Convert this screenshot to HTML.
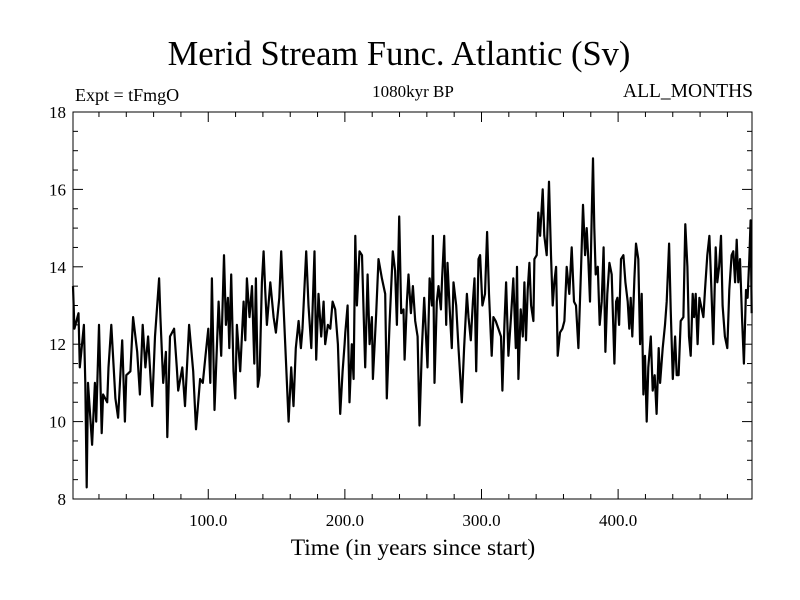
<!DOCTYPE html>
<html><head><meta charset="utf-8"><style>
html,body{margin:0;padding:0;background:#fff;}
svg{display:block;font-family:"Liberation Serif",serif;}
</style></head><body>
<svg id="chart" width="800" height="600" viewBox="0 0 800 600">
<text x="399" y="65" text-anchor="middle" font-size="34.5">Merid Stream Func. Atlantic (Sv)</text>
<text x="75" y="101" font-size="18">Expt = tFmgO</text>
<text x="413" y="97" text-anchor="middle" font-size="17">1080kyr BP</text>
<text x="753" y="97" text-anchor="end" font-size="19.5">ALL_MONTHS</text>
<text x="413" y="555" text-anchor="middle" font-size="23.5">Time (in years since start)</text>
<g id="axes"></g>
<g id="series"></g>
<rect x="73" y="112" width="679" height="387" fill="none" stroke="#000" stroke-width="1"/>
</svg>
<script>
const years = [1,2,5,6,9,10,11,12,15,17,18,20,22,23,26,27,29,32,34,37,39,40,43,45,48,50,52,54,56,59,61,64,65,67,69,70,72,75,77,78,81,83,86,89,91,94,96,98,100,
101.5,102.7,104.6,107.6,109.5,111.5,112.9,114.4,115.4,116.8,118.5,119.8,121,123.4,125.9,127.1,128.3,130.2,132,133.7,134.9,136.3,137.6,139.3,140.5,141.7,142.9,145.4,147.8,149.5,152,153.4,155.1,156.8,158.8,160.7,162.4,164.1,166.1,167.8,169,171.7,173.4,175.4,177.8,179,180.7,182.7,184.4,185.6,187.6,189.3,191,192.9,194.9,196.6,198.3,199.8,
200.3,202,203.4,205.1,206.4,207.6,208.8,210.7,212.5,214.2,214.9,216.6,218.1,219.8,220.5,222.9,224.6,227.1,229.5,230.7,232.7,235.1,236.8,238.1,239.8,241.2,242.9,243.7,245.4,246.6,248.3,249.8,251.5,253.2,254.6,256.4,258.1,260.5,262,263.7,264.4,265.6,267.3,268.5,270.3,271.2,272.7,274.2,275.1,276.6,278.3,279.5,281.5,283.2,285.6,287.3,289.3,290.5,292.2,293.7,294.9,296.1,297.8,
299,300.7,302.6,304.1,305.5,307.5,308.7,310.4,312.4,314.3,315.3,316.8,318,319.7,321.6,323.3,325.1,326,327,328.7,330.2,331.4,332.6,333.8,335.1,336.3,338,338.7,340.4,341.6,342.9,344.8,346,347.7,349.4,350.9,352.1,353.3,354.6,355.8,357.5,359.2,360.7,362.4,364.3,366,367.7,369.2,370.9,372.9,374.3,375.8,377,378.2,379.4,380.7,381.6,382.6,383.6,385.1,386.5,388,389.4,390.7,392.1,393.6,395.3,397.3,
398.5,399.5,400.7,402.1,403.9,405.3,407,408.2,409.2,410.4,411.9,413.1,414.8,416.1,417.3,418.5,419.7,420.9,422.1,423.9,425.3,426.8,428.2,429.7,430.7,432.6,434.3,435.6,437.3,438.5,440,441.7,442.9,444.3,445.8,447.8,449.2,450.7,451.9,453.1,454.6,455.6,456.8,458.2,459.5,460.7,462.4,463.6,465.3,466.8,468,469.7,471.4,472.6,473.9,475.3,476.5,478.2,479.9,481.4,483.1,484.3,485.6,486.8,488,489.2,490.7,492.1,493.6,494.8,496,497,497.8];
const values = [13.5,12.4,12.8,11.4,12.5,11.0,8.3,11.0,9.4,11.0,10.0,12.5,9.7,10.7,10.5,11.4,12.5,10.6,10.1,12.1,10.0,11.2,11.3,12.7,11.8,10.7,12.5,11.4,12.2,10.4,12.2,13.7,12.7,11.0,11.8,9.6,12.2,12.4,11.4,10.8,11.4,10.4,12.5,11.3,9.8,11.1,11.0,11.7,12.4,
11.0,13.7,10.3,13.1,11.7,14.3,12.5,13.2,11.9,13.8,11.3,10.6,12.5,11.3,13.1,12.1,13.7,12.7,13.5,11.5,13.7,10.9,11.2,13.6,14.4,13.4,12.5,13.6,12.7,12.3,13.2,14.4,13.0,11.6,10.0,11.4,10.4,11.9,12.6,11.9,12.4,14.4,13.0,11.9,14.4,11.6,13.3,12.2,13.1,12.0,12.5,12.4,13.1,12.9,12.0,10.2,11.3,12.0,
12.3,13.0,10.5,12.0,11.1,14.8,13.0,14.4,14.3,12.2,11.4,13.8,12.0,12.7,11.1,12.8,14.2,13.7,13.3,10.6,12.5,14.4,13.9,12.5,15.3,12.8,12.9,11.6,13.1,13.8,12.8,13.5,12.6,12.2,9.9,11.9,13.2,11.4,13.7,13.0,14.8,11.0,13.1,13.5,12.9,13.7,14.8,12.5,14.1,13.0,11.9,13.6,13.0,11.9,10.5,11.9,13.3,12.7,12.1,13.1,13.7,11.3,14.2,
14.3,13.0,13.3,14.9,13.3,11.7,12.7,12.6,12.4,12.2,10.8,12.5,13.6,11.7,12.7,13.7,11.9,14.0,11.1,12.9,12.2,13.6,12.1,13.4,14.1,13.0,12.6,14.2,14.3,15.4,14.8,16.0,14.8,14.3,16.2,14.3,13.0,13.6,14.0,11.7,12.3,12.4,12.6,14.0,13.3,14.5,13.1,13.0,11.9,14.0,15.6,14.3,15.0,14.2,13.1,15.3,16.8,15.0,13.8,14.0,12.5,13.1,14.5,11.8,13.3,14.1,13.8,11.5,
13.1,13.2,12.5,14.2,14.3,13.6,13.1,12.4,13.2,12.2,13.7,14.6,14.2,12.0,13.3,10.7,11.7,10.0,11.4,12.2,10.8,11.2,10.2,11.9,11.0,11.9,12.5,13.1,14.6,12.9,11.1,12.2,11.2,11.2,12.6,12.7,15.1,14.0,12.2,11.7,13.3,12.7,13.3,12.0,13.2,13.0,12.7,13.4,14.3,14.8,13.7,12.0,14.5,13.6,14.0,14.8,13.0,12.2,11.9,13.4,14.3,14.4,13.6,14.7,13.6,14.2,12.7,11.5,13.4,13.2,14.2,15.2,12.8];
const yTicks = [8,10,12,14,16,18];
const xTicks = [100,200,300,400];
const xTickLabels = ["100.0","200.0","300.0","400.0"];

const X0=73,X1=752,Y0=499,Y1=112,XMIN=1,XMAX=498,YMIN=8,YMAX=18;
const sx=v=>X0+(v-XMIN)/(XMAX-XMIN)*(X1-X0);
const sy=v=>Y0-(v-YMIN)/(YMAX-YMIN)*(Y0-Y1);
const NS="http://www.w3.org/2000/svg";
const axes=document.getElementById('axes');
function ln(x1,y1,x2,y2,name){const l=document.createElementNS(NS,'line');
l.setAttribute('x1',x1);l.setAttribute('y1',y1);l.setAttribute('x2',x2);l.setAttribute('y2',y2);
l.setAttribute('stroke','#000');l.setAttribute('stroke-width','1');


axes.appendChild(l);}
for(let v=YMIN;v<=YMAX+0.001;v+=0.5){const y=sy(v);const major=Math.abs(v-Math.round(v/2)*2)<0.01;const len=major?10:5;
ln(X0,y,X0+len,y,'y-tick');ln(X1-len,y,X1,y,'y-tick-right');}
for(let v=20;v<XMAX;v+=20){const x=sx(v);const major=v%100===0;const len=major?10:5;
ln(x,Y0,x,Y0-len,'x-tick');ln(x,Y1,x,Y1+len,'x-tick-top');}
yTicks.forEach(v=>{const t=document.createElementNS(NS,'text');
t.setAttribute('x',66);t.setAttribute('y',sy(v)+6);t.setAttribute('text-anchor','end');t.setAttribute('font-size','17');
t.textContent=v;


axes.appendChild(t);});
xTicks.forEach((v,i)=>{const t=document.createElementNS(NS,'text');
t.setAttribute('x',sx(v));t.setAttribute('y',526);t.setAttribute('text-anchor','middle');t.setAttribute('font-size','17');
t.textContent=xTickLabels[i];


axes.appendChild(t);});
const p=document.createElementNS(NS,'polyline');
p.setAttribute('points',years.map((yr,i)=>sx(yr).toFixed(1)+','+sy(values[i]).toFixed(1)).join(' '));
p.setAttribute('fill','none');p.setAttribute('stroke','#000');p.setAttribute('stroke-width','2.2');p.setAttribute('stroke-linejoin','round');


document.getElementById('series').appendChild(p);
</script>
</body></html>
